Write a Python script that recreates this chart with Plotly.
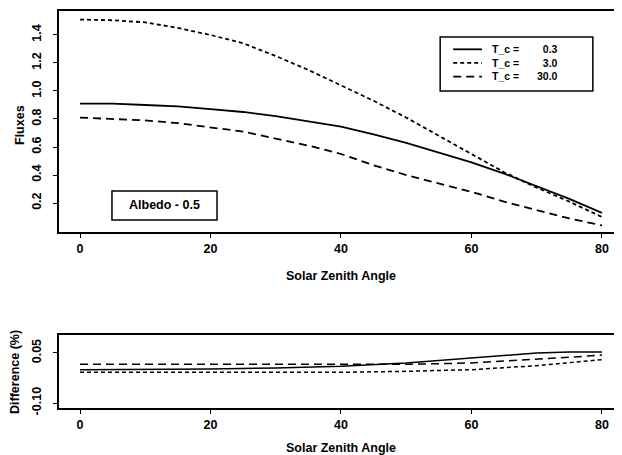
import plotly.graph_objects as go

# ---- data ----
angles = [0, 5, 10, 15, 20, 25, 30, 35, 40, 45, 50, 55, 60, 65, 70, 75, 80]
flux_tc03 = [0.91, 0.91, 0.90, 0.89, 0.87, 0.85, 0.82, 0.785, 0.745, 0.69, 0.63, 0.56, 0.49, 0.41, 0.32, 0.23, 0.13]
flux_tc3 = [1.51, 1.505, 1.49, 1.45, 1.40, 1.34, 1.25, 1.15, 1.04, 0.93, 0.81, 0.68, 0.55, 0.42, 0.31, 0.21, 0.10]
flux_tc30 = [0.81, 0.80, 0.79, 0.77, 0.74, 0.71, 0.66, 0.61, 0.55, 0.47, 0.40, 0.34, 0.28, 0.21, 0.15, 0.09, 0.04]

diff_angles = [0, 10, 20, 30, 40, 50, 60, 70, 75, 80]
diff_tc03 = [0.0, 0.0, 0.002, 0.005, 0.01, 0.02, 0.036, 0.05, 0.053, 0.053]
diff_tc3 = [-0.008, -0.008, -0.008, -0.008, -0.008, -0.005, 0.0, 0.012, 0.02, 0.03]
diff_tc30 = [0.016, 0.016, 0.016, 0.015, 0.014, 0.016, 0.02, 0.03, 0.037, 0.044]

series_labels = ["0.3", "3.0", "30.0"]
x_ticks = [0, 20, 40, 60, 80]
flux_ticks = [0.2, 0.4, 0.6, 0.8, 1.0, 1.2, 1.4]
diff_ticks = [-0.10, 0.05]
diff_tick_text = ["-0.10", "0.05"]

FONT = "Liberation Sans"
dashes = ["solid", "4px,3px", "8px,5px"]

fig = go.Figure()
for ys, d in zip([flux_tc03, flux_tc3, flux_tc30], dashes):
    fig.add_trace(go.Scatter(x=angles, y=ys, mode="lines", line=dict(color="black", width=1.8, dash=d),
                             xaxis="x", yaxis="y", showlegend=False))
for ys, d in zip([diff_tc03, diff_tc3, diff_tc30], dashes):
    fig.add_trace(go.Scatter(x=diff_angles, y=ys, mode="lines", line=dict(color="black", width=1.5, dash=d),
                             xaxis="x2", yaxis="y2", showlegend=False))

xr = [-3.22, 83.07]
axis_common = dict(showgrid=False, zeroline=False, showline=True, linecolor="black", linewidth=1.8,
                   ticks="outside", ticklen=4, tickcolor="black", tickwidth=1.2, automargin=False,
                   tickfont=dict(family=FONT, size=12.5, color="black", weight="bold"))

# page body has an 8px default margin: figure is 8px smaller and margins compensate
fig.update_layout(
    width=614, height=447,
    margin=dict(l=51, r=0, t=3, b=47),
    paper_bgcolor="white", plot_bgcolor="white",
    xaxis=dict(domain=[0, 1], range=xr, tickvals=x_ticks, anchor="y", mirror=True, **axis_common),
    yaxis=dict(domain=[0.4433, 1], range=[-0.007, 1.571], tickvals=flux_ticks, tickformat=".1f",
               tickangle=-90, anchor="x", ticklabelstandoff=7, **axis_common),
    xaxis2=dict(domain=[0, 1], range=xr, tickvals=x_ticks, anchor="y2", mirror=True, **axis_common),
    yaxis2=dict(domain=[0, 0.1839], range=[-0.115, 0.104], tickvals=diff_ticks, ticktext=diff_tick_text,
                tickangle=-90, anchor="x2", ticklabelstandoff=7, **axis_common),
)

tfont = dict(family=FONT, size=12.5, color="black", weight="bold")
# axis titles
fig.add_annotation(x=40, xref="x", y=0.3325, yref="paper", text="Solar Zenith Angle", showarrow=False,
                   xanchor="center", yanchor="middle", font=tfont)
fig.add_annotation(x=40, xref="x2", y=-0.1008, yref="paper", text="Solar Zenith Angle", showarrow=False,
                   xanchor="center", yanchor="middle", font=tfont)
fig.add_annotation(x=-0.0693, xref="paper", y=0.757, yref="y", text="Fluxes", textangle=-90, showarrow=False,
                   xanchor="center", yanchor="middle", font=tfont)
fig.add_annotation(x=-0.0782, xref="paper", y=-0.007, yref="y2", text="Difference (%)", textangle=-90,
                   showarrow=False, xanchor="center", yanchor="middle", font=tfont)

# Albedo box
fig.add_shape(type="rect", xref="x", yref="y", x0=4.9, x1=21.0, y0=0.079, y1=0.286,
              line=dict(color="black", width=1.5), fillcolor="white")
fig.add_annotation(x=12.95, xref="x", y=0.183, yref="y", text="Albedo - 0.5", showarrow=False,
                   xanchor="center", yanchor="middle", font=tfont)

# legend box
fig.add_shape(type="rect", xref="x", yref="y", x0=55.2, x1=78.6, y0=1.0, y1=1.386,
              line=dict(color="black", width=1.5), fillcolor="white")
lfont = dict(family=FONT, size=10.5, color="black", weight="bold")
row_step = 13.65 / 140.0  # line spacing in data units
mid = 1.200
row_y = [mid + row_step, mid, mid - row_step]
for d, yy in zip(dashes, row_y):
    fig.add_shape(type="line", xref="x", yref="y", x0=57.2, x1=61.6, y0=yy, y1=yy,
                  line=dict(color="black", width=1.8, dash=d))
fig.add_annotation(x=62.9, xref="x", y=mid, yref="y", text="<br>".join(["T_c ="] * 3), xanchor="left",
                   yanchor="middle", align="left", showarrow=False, font=lfont)
fig.add_annotation(x=73.6, xref="x", y=mid, yref="y", text="<br>".join(series_labels), xanchor="right",
                   yanchor="middle", align="right", showarrow=False, font=lfont)

fig.write_html("out.html")
